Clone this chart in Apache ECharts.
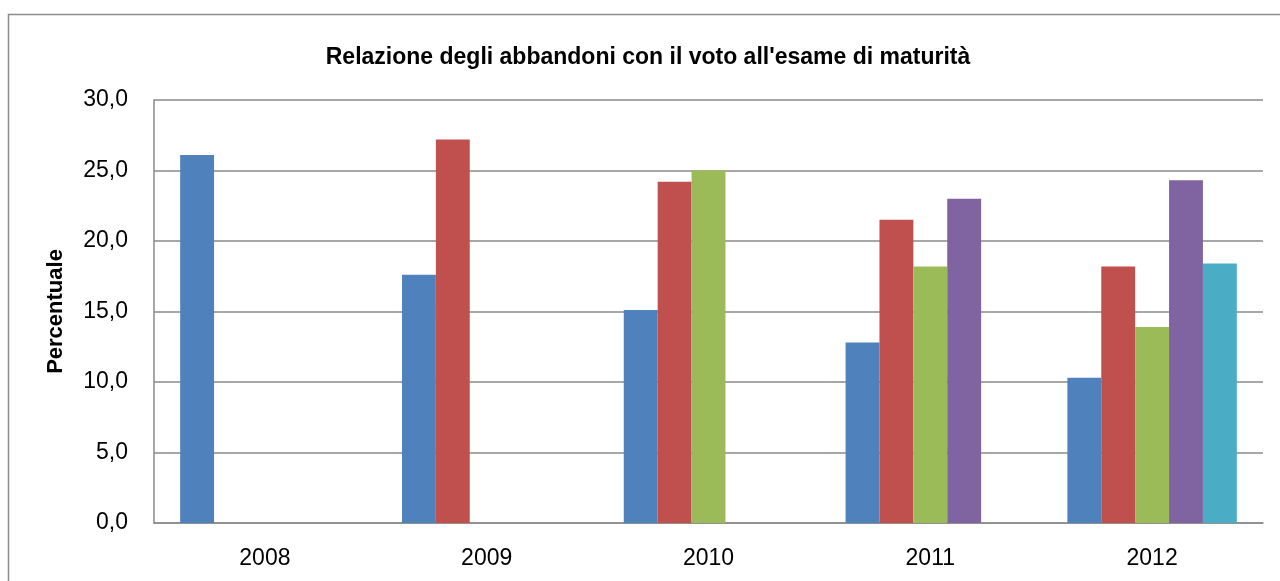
<!DOCTYPE html>
<html>
<head>
<meta charset="utf-8">
<script src="https://cdn.jsdelivr.net/npm/echarts@6/dist/echarts.min.js"></script>
<style>
  html, body { margin: 0; padding: 0; background: #fff; }
  #chart { width: 1280px; height: 581px; }
</style>
</head>
<body>
<div id="chart"></div>
<script>
// anni accademici
const years = ['2008', '2009', '2010', '2011', '2012'];

// percentuali di abbandono per serie (null = nessun dato)
const serie1 = [26.1, 17.6, 15.1, 12.8, 10.3];
const serie2 = [null, 27.2, 24.2, 21.5, 18.2];
const serie3 = [null, null, 25.0, 18.2, 13.9];
const serie4 = [null, null, null, 23.0, 24.3];
const serie5 = [null, null, null, null, 18.4];

const colors = ['#4F81BD', '#C0504D', '#9BBB59', '#8064A2', '#4BACC6'];
const font = 'Liberation Sans';

const chart = echarts.init(document.getElementById('chart'));

const makeSeries = (data, i) => ({
  type: 'bar',
  data: data,
  barGap: '0%',
  barCategoryGap: '23.6%',
  itemStyle: { color: colors[i] },
  silent: true
});

chart.setOption({
  animation: false,
  title: {
    text: "Relazione degli abbandoni con il voto all'esame di maturità",
    left: 643,
    textAlign: 'center',
    top: 41,
    textStyle: { fontFamily: font, fontWeight: 'bold', fontSize: 23, color: '#000' }
  },
  graphic: [{
    type: 'rect',
    shape: { x: 8.5, y: 14.5, width: 1300, height: 600 },
    style: { fill: 'none', stroke: '#8c8c8c', lineWidth: 1.5 },
    silent: true
  }],
  grid: { left: 154, top: 100, right: 17, bottom: 58 },
  xAxis: {
    type: 'category',
    data: years,
    axisLine: { lineStyle: { color: '#8a8a8a', width: 1.5 } },
    axisTick: { show: false },
    axisLabel: { fontFamily: font, fontSize: 23, color: '#000', margin: 24 }
  },
  yAxis: {
    type: 'value',
    min: 0,
    max: 30,
    interval: 5,
    name: 'Percentuale',
    nameLocation: 'middle',
    nameGap: 87,
    nameTextStyle: { fontFamily: font, fontWeight: 'bold', fontSize: 22, color: '#000' },
    axisLine: { show: true, lineStyle: { color: '#8a8a8a', width: 1.5 } },
    axisTick: { show: false },
    splitLine: { lineStyle: { color: '#8a8a8a', width: 1.5 } },
    axisLabel: {
      fontFamily: font, fontSize: 23, color: '#000', margin: 26,
      formatter: v => v.toFixed(1).replace('.', ',')
    }
  },
  series: [serie1, serie2, serie3, serie4, serie5].map(makeSeries)
});
</script>
</body>
</html>
